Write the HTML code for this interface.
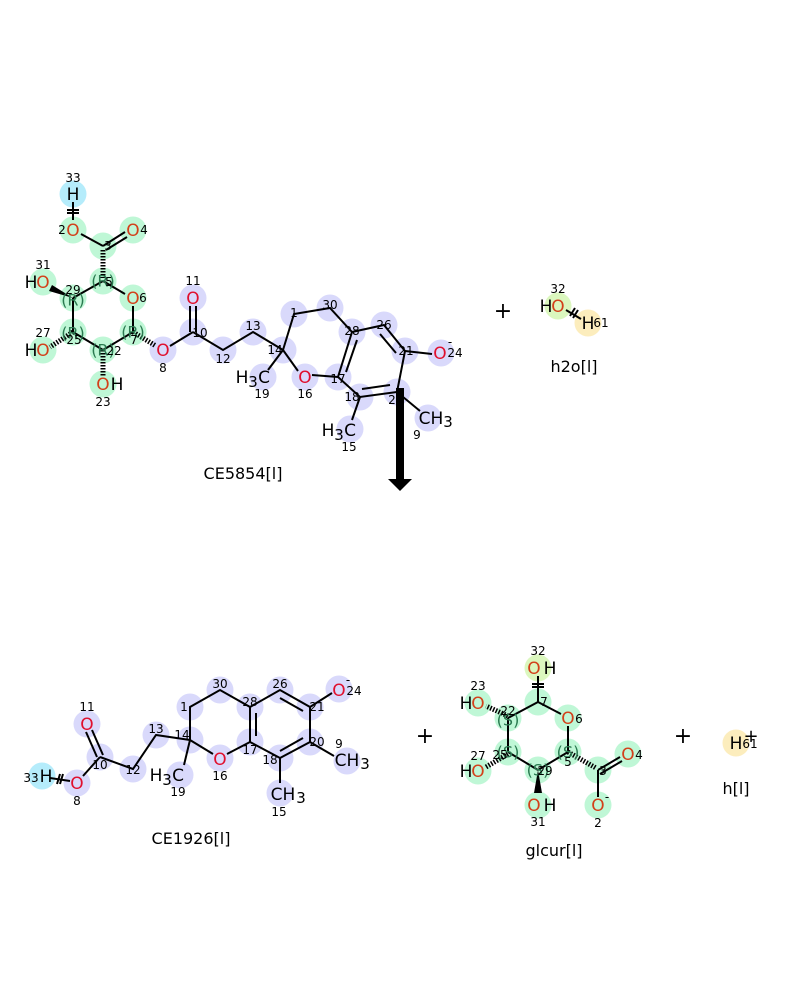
<!DOCTYPE html>
<html><head><meta charset="utf-8"><style>
html,body{margin:0;padding:0;background:#fff;}
svg{display:block;}
text{font-family:"DejaVu Sans","Liberation Sans",sans-serif;}
.e{font-size:17px;text-anchor:middle;dominant-baseline:central;}
.n{font-size:12px;text-anchor:middle;dominant-baseline:central;fill:#000;}
.s{font-size:16px;text-anchor:middle;dominant-baseline:central;fill:#2a7a50;}
.g{fill:#bff7d6}.l{fill:#d9d9fb}.c{fill:#b5ecfb}.y{fill:#fcedbd}.yg{fill:#dbf7be}
.o{fill:#e0102e}.og{fill:#d3401a}
line,polyline{stroke:#000;stroke-width:2;fill:none}
.h{stroke-dasharray:1.5 1.5;stroke-width:5}
</style></head><body>
<svg width="800" height="1000" viewBox="0 0 800 1000" xmlns="http://www.w3.org/2000/svg">
<g>
<circle class="c" cx="73" cy="194" r="13.5"/>
<circle class="g" cx="73" cy="230" r="13.5"/><circle class="g" cx="133" cy="230" r="13.5"/>
<circle class="g" cx="103" cy="246" r="13.5"/><circle class="g" cx="103" cy="281" r="13.5"/>
<circle class="g" cx="73" cy="298" r="13.5"/><circle class="g" cx="133" cy="298" r="13.5"/>
<circle class="g" cx="73" cy="332" r="13.5"/><circle class="g" cx="103" cy="350" r="13.5"/>
<circle class="g" cx="133" cy="332" r="13.5"/><circle class="g" cx="43" cy="282" r="13.5"/>
<circle class="g" cx="43" cy="350" r="13.5"/><circle class="g" cx="103" cy="384" r="13.5"/>
<circle class="l" cx="163" cy="350" r="13.5"/><circle class="l" cx="193" cy="332" r="13.5"/>
<circle class="l" cx="193" cy="298" r="13.5"/><circle class="l" cx="223" cy="350" r="13.5"/>
<circle class="l" cx="253" cy="332" r="13.5"/><circle class="l" cx="283" cy="350" r="13.5"/>
<circle class="l" cx="294" cy="314" r="13.5"/><circle class="l" cx="330" cy="308" r="13.5"/>
<circle class="l" cx="352" cy="332" r="13.5"/><circle class="l" cx="384" cy="325" r="13.5"/>
<circle class="l" cx="405" cy="351" r="13.5"/><circle class="l" cx="441" cy="353" r="13.5"/>
<circle class="l" cx="397" cy="392" r="13.5"/><circle class="l" cx="360" cy="397" r="13.5"/>
<circle class="l" cx="338" cy="377" r="13.5"/><circle class="l" cx="305" cy="377" r="13.5"/>
<circle class="l" cx="263" cy="377" r="13.5"/><circle class="l" cx="350" cy="429" r="13.5"/>
<circle class="l" cx="428" cy="418" r="13.5"/>
</g>
<g>
<line x1="73" y1="202" x2="73" y2="220"/><line x1="67" y1="210" x2="79" y2="210"/><line x1="67" y1="213" x2="79" y2="213"/>
<line x1="81" y1="234" x2="103" y2="246"/>
<line x1="103" y1="246" x2="125" y2="232"/><line x1="106" y1="250" x2="127" y2="237"/>
<line class="h" x1="103" y1="250" x2="103" y2="278"/>
<line x1="103" y1="281" x2="73" y2="298"/><line x1="103" y1="281" x2="125" y2="294"/>
<line x1="133" y1="306" x2="133" y2="332"/><line x1="133" y1="332" x2="103" y2="350"/>
<line x1="103" y1="350" x2="73" y2="332"/><line x1="73" y1="332" x2="73" y2="298"/>
<polygon points="73,298 52,285 49,291" fill="#000"/>
<line class="h" x1="73" y1="332" x2="50" y2="347"/>
<line class="h" x1="103" y1="350" x2="103" y2="376"/>
<line class="h" x1="133" y1="332" x2="156" y2="346"/>
<line x1="170" y1="346" x2="193" y2="332"/>
<line x1="190" y1="332" x2="190" y2="306"/><line x1="196" y1="332" x2="196" y2="306"/>
<polyline points="193,332 223,350 253,332 283,350"/>
<polyline points="283,350 294,314 330,308 352,332"/>
<line x1="283" y1="350" x2="298" y2="371"/><line x1="283" y1="350" x2="268" y2="370"/>
<line x1="312" y1="375" x2="338" y2="377"/>
<polyline points="352,332 384,325 405,351 397,392 360,397 338,377 352,332"/>
<line x1="357" y1="340" x2="346" y2="372"/><line x1="380" y1="334" x2="396" y2="353"/><line x1="390" y1="385" x2="362" y2="389"/>
<line x1="405" y1="351" x2="432" y2="354"/>
<line x1="397" y1="392" x2="420" y2="411"/>
<line x1="360" y1="397" x2="352" y2="420"/>
</g>
<g>
<text class="e" x="73" y="195" fill="#000">H</text><text class="n" x="73" y="178">33</text>
<text class="e og" x="73" y="231">O</text><text class="n" x="62" y="230">2</text>
<text class="e og" x="133" y="231">O</text><text class="n" x="144" y="230">4</text>
<text class="n" x="108" y="246">3</text>
<text class="s" x="103" y="281">(R)</text><text class="n" x="109" y="282">5</text>
<text class="e og" x="133" y="299">O</text><text class="n" x="143" y="298">6</text>
<text class="s" x="73" y="300">(R)</text><text class="n" x="73" y="290">29</text>
<text class="s" x="73" y="333">(R)</text><text class="n" x="74" y="340">25</text>
<text class="s" x="103" y="350">(R)</text><text class="n" x="114" y="351">22</text>
<text class="s" x="133" y="332">(R)</text><text class="n" x="134" y="340">7</text>
<text class="e" x="31" y="283" fill="#000">H</text><text class="e og" x="43" y="283">O</text><text class="n" x="43" y="265">31</text>
<text class="e" x="31" y="351" fill="#000">H</text><text class="e og" x="43" y="351">O</text><text class="n" x="43" y="333">27</text>
<text class="e og" x="103" y="385">O</text><text class="e" x="117" y="385" fill="#000">H</text><text class="n" x="103" y="402">23</text>
<text class="e o" x="163" y="351">O</text><text class="n" x="163" y="368">8</text>
<text class="n" x="200" y="333">10</text>
<text class="e o" x="193" y="299">O</text><text class="n" x="193" y="281">11</text>
<text class="n" x="223" y="359">12</text><text class="n" x="253" y="326">13</text>
<text class="n" x="275" y="350">14</text><text class="n" x="294" y="313">1</text><text class="n" x="330" y="305">30</text>
<text class="n" x="352" y="331">28</text><text class="n" x="384" y="325">26</text><text class="n" x="406" y="351">21</text>
<text class="e o" x="440" y="354">O</text><text class="n" x="455" y="353">24</text><text class="n" x="450" y="342">-</text>
<text class="n" x="392" y="400">2</text><text class="n" x="352" y="397">18</text><text class="n" x="338" y="379">17</text>
<text class="e o" x="305" y="378">O</text><text class="n" x="305" y="394">16</text>
<text class="e" x="242" y="378" fill="#000">H</text><text class="e" x="253" y="382" fill="#000" style="font-size:15px">3</text><text class="e" x="264" y="378" fill="#000">C</text><text class="n" x="262" y="394">19</text>
<text class="e" x="328" y="431" fill="#000">H</text><text class="e" x="339" y="435" fill="#000" style="font-size:15px">3</text><text class="e" x="350" y="431" fill="#000">C</text><text class="n" x="349" y="447">15</text>
<text class="e" x="431" y="419" fill="#000">CH</text><text class="e" x="448" y="422" fill="#000" style="font-size:15px">3</text><text class="n" x="417" y="435">9</text>
<text x="243" y="479" font-size="16" text-anchor="middle" fill="#000">CE5854[l]</text>
</g>
<rect x="396" y="388" width="8" height="92" fill="#000"/>
<polygon points="388,479 412,479 400,491" fill="#000"/>
<text x="503" y="318" font-size="22" text-anchor="middle" fill="#000">+</text>
<circle class="yg" cx="558" cy="306" r="13.5"/><circle class="y" cx="588" cy="323" r="13.5"/>
<line x1="566" y1="310" x2="581" y2="319"/><line x1="570" y1="316" x2="575" y2="308"/><line x1="573" y1="318" x2="578" y2="310"/>
<text class="e" x="546" y="307" fill="#000">H</text><text class="e og" x="558" y="307">O</text><text class="n" x="558" y="289">32</text>
<text class="e" x="588" y="324" fill="#000">H</text><text class="n" x="601" y="323">61</text>
<text x="574" y="372" font-size="16" text-anchor="middle" fill="#000">h2o[l]</text>

<g>
<circle class="c" cx="42" cy="776" r="13.5"/>
<circle class="l" cx="77" cy="783" r="13.5"/><circle class="l" cx="100" cy="757" r="13.5"/>
<circle class="l" cx="87" cy="724" r="13.5"/><circle class="l" cx="133" cy="769" r="13.5"/>
<circle class="l" cx="156" cy="735" r="13.5"/><circle class="l" cx="190" cy="740" r="13.5"/>
<circle class="l" cx="190" cy="707" r="13.5"/><circle class="l" cx="220" cy="690" r="13.5"/>
<circle class="l" cx="250" cy="707" r="13.5"/><circle class="l" cx="280" cy="690" r="13.5"/>
<circle class="l" cx="310" cy="707" r="13.5"/><circle class="l" cx="339" cy="689" r="13.5"/>
<circle class="l" cx="310" cy="742" r="13.5"/><circle class="l" cx="347" cy="761" r="13.5"/>
<circle class="l" cx="280" cy="758" r="13.5"/><circle class="l" cx="280" cy="793" r="13.5"/>
<circle class="l" cx="250" cy="742" r="13.5"/><circle class="l" cx="220" cy="758" r="13.5"/>
<circle class="l" cx="180" cy="775" r="13.5"/>
</g>
<g>
<line x1="50" y1="778" x2="70" y2="781"/><line x1="57" y1="784" x2="60" y2="774"/><line x1="60" y1="784" x2="63" y2="774"/>
<line x1="83" y1="776" x2="100" y2="757"/>
<line x1="97" y1="757" x2="86" y2="732"/><line x1="103" y1="755" x2="92" y2="730"/>
<polyline points="100,757 133,769 156,735 190,740"/>
<polyline points="190,740 190,707 220,690 250,707 250,742"/>
<line x1="190" y1="740" x2="213" y2="754"/><line x1="227" y1="754" x2="250" y2="742"/>
<line x1="190" y1="740" x2="184" y2="765"/>
<polyline points="250,707 280,690 310,707 310,742 280,758 250,742"/>
<line x1="256" y1="713" x2="256" y2="736"/><line x1="280" y1="698" x2="303" y2="711"/><line x1="303" y1="738" x2="280" y2="751"/>
<line x1="310" y1="707" x2="332" y2="693"/>
<line x1="310" y1="742" x2="334" y2="756"/>
<line x1="280" y1="758" x2="280" y2="783"/>
</g>
<g>
<text class="e" x="46" y="777" fill="#000">H</text><text class="n" x="31" y="778">33</text>
<text class="e o" x="77" y="784">O</text><text class="n" x="77" y="801">8</text>
<text class="n" x="100" y="765">10</text>
<text class="e o" x="87" y="725">O</text><text class="n" x="87" y="707">11</text>
<text class="n" x="133" y="770">12</text><text class="n" x="156" y="729">13</text><text class="n" x="182" y="735">14</text>
<text class="n" x="184" y="707">1</text><text class="n" x="220" y="684">30</text><text class="n" x="250" y="702">28</text>
<text class="n" x="280" y="684">26</text><text class="n" x="317" y="707">21</text>
<text class="e o" x="339" y="691">O</text><text class="n" x="354" y="691">24</text><text class="n" x="348" y="680">-</text>
<text class="n" x="317" y="742">20</text><text class="n" x="339" y="744">9</text>
<text class="e" x="347" y="761" fill="#000">CH</text><text class="e" x="365" y="764" fill="#000" style="font-size:15px">3</text>
<text class="n" x="270" y="760">18</text><text class="n" x="250" y="750">17</text>
<text class="e o" x="220" y="760">O</text><text class="n" x="220" y="776">16</text>
<text class="e" x="156" y="776" fill="#000">H</text><text class="e" x="167" y="780" fill="#000" style="font-size:15px">3</text><text class="e" x="178" y="776" fill="#000">C</text><text class="n" x="178" y="792">19</text>
<text class="e" x="283" y="795" fill="#000">CH</text><text class="e" x="301" y="798" fill="#000" style="font-size:15px">3</text><text class="n" x="279" y="812">15</text>
<text x="191" y="844" font-size="16" text-anchor="middle" fill="#000">CE1926[l]</text>
</g>
<text x="425" y="743" font-size="22" text-anchor="middle" fill="#000">+</text>
<g>
<circle class="yg" cx="538" cy="668" r="13.5"/>
<circle class="g" cx="538" cy="702" r="13.5"/><circle class="g" cx="568" cy="718" r="13.5"/>
<circle class="g" cx="568" cy="752" r="13.5"/><circle class="g" cx="538" cy="770" r="13.5"/>
<circle class="g" cx="508" cy="752" r="13.5"/><circle class="g" cx="508" cy="718" r="13.5"/>
<circle class="g" cx="478" cy="703" r="13.5"/><circle class="g" cx="478" cy="771" r="13.5"/>
<circle class="g" cx="538" cy="805" r="13.5"/><circle class="g" cx="598" cy="770" r="13.5"/>
<circle class="g" cx="628" cy="754" r="13.5"/><circle class="g" cx="598" cy="805" r="13.5"/>
</g>
<g>
<line x1="538" y1="676" x2="538" y2="702"/><line x1="532" y1="684" x2="544" y2="684"/><line x1="532" y1="687" x2="544" y2="687"/>
<line x1="538" y1="702" x2="561" y2="714"/><line x1="568" y1="726" x2="568" y2="752"/>
<line x1="568" y1="752" x2="538" y2="770"/><line x1="538" y1="770" x2="508" y2="752"/>
<line x1="508" y1="752" x2="508" y2="718"/><line x1="508" y1="718" x2="538" y2="702"/>
<line class="h" x1="508" y1="716" x2="486" y2="706"/>
<line class="h" x1="508" y1="754" x2="486" y2="767"/>
<polygon points="538,770 534,793 542,793" fill="#000"/>
<line class="h" x1="568" y1="752" x2="596" y2="768"/>
<line x1="598" y1="770" x2="620" y2="757"/><line x1="600" y1="774" x2="622" y2="761"/>
<line x1="598" y1="770" x2="598" y2="797"/>
</g>
<g>
<text class="e og" x="534" y="669">O</text><text class="e" x="550" y="669" fill="#000">H</text><text class="n" x="538" y="651">32</text>
<text class="n" x="544" y="702">7</text>
<text class="e og" x="568" y="719">O</text><text class="n" x="579" y="719">6</text>
<text class="s" x="568" y="752">(S)</text><text class="n" x="568" y="762">5</text>
<text class="s" x="538" y="770">(S)</text><text class="n" x="545" y="771">29</text>
<text class="s" x="508" y="752">(S)</text><text class="n" x="500" y="755">25</text>
<text class="s" x="508" y="720">(S)</text><text class="n" x="508" y="711">22</text>
<text class="e" x="466" y="704" fill="#000">H</text><text class="e og" x="478" y="704">O</text><text class="n" x="478" y="686">23</text>
<text class="e" x="466" y="772" fill="#000">H</text><text class="e og" x="478" y="772">O</text><text class="n" x="478" y="756">27</text>
<text class="e og" x="534" y="806">O</text><text class="e" x="550" y="806" fill="#000">H</text><text class="n" x="538" y="822">31</text>
<text class="n" x="603" y="771">3</text>
<text class="e og" x="628" y="755">O</text><text class="n" x="639" y="755">4</text>
<text class="e og" x="598" y="806">O</text><text class="n" x="607" y="797">-</text><text class="n" x="598" y="823">2</text>
<text x="554" y="856" font-size="16" text-anchor="middle" fill="#000">glcur[l]</text>
</g>
<text x="683" y="743" font-size="22" text-anchor="middle" fill="#000">+</text>
<circle class="y" cx="736" cy="743" r="13.5"/>
<text class="e" x="736" y="744" fill="#000">H</text><text class="n" x="750" y="744">61</text>
<text x="751" y="742" font-size="18" text-anchor="middle" fill="#000">+</text>
<text x="736" y="794" font-size="16" text-anchor="middle" fill="#000">h[l]</text>
</svg>
</body></html>
